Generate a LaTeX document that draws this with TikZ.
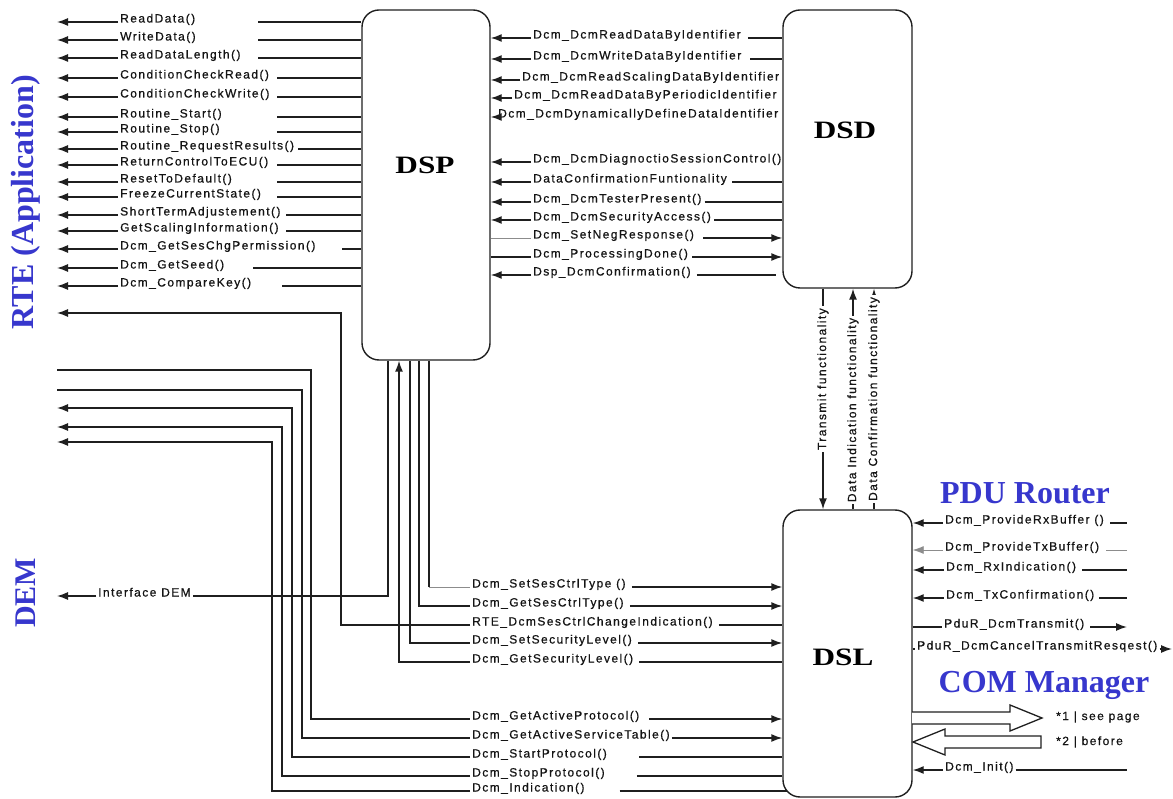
\documentclass[tikz,border=0pt]{standalone}
\usepackage{fontspec}
\usetikzlibrary{arrows.meta}
\newfontfamily\lblfam[LetterSpace=12,FakeBold=0.6]{Liberation Sans}
\newfontfamily\serfam{Liberation Serif}
\newfontfamily\boxfam[FakeStretch=1.25]{Liberation Serif}
\definecolor{hdblue}{RGB}{55,55,205}
\begin{document}
\begin{tikzpicture}[x=1pt,y=-1pt, >={Latex[length=11pt,width=8pt]},
 conn/.style={line width=1.4pt, draw=black!88},
 faint/.style={line width=0.8pt, draw=black!45},
 lbl/.style={font=\lblfam\fontsize{12}{14}\selectfont, text=black!92, inner xsep=2pt, inner ysep=1.5pt},
 box/.style={draw=black!88, line width=1.4pt, rounded corners=17pt, inner sep=0pt},
 boxlbl/.style={font=\boxfam\bfseries\fontsize{25}{28}\selectfont, text=black},
 head/.style={font=\serfam\bfseries\fontsize{32}{36}\selectfont, text=hdblue},
 vlbl/.style={lbl, rotate=90, fill=white, inner xsep=2pt},
 hollow/.style={draw=black!88, line width=1.3pt, fill=white, line join=miter}
]
\fill[white] (0,0) rectangle (1173,799);
\useasboundingbox (0,0) rectangle (1173,799);

% ---------- boxes ----------
\node[box, minimum width=128pt, minimum height=350pt] (DSP) at (426,185) {};
\node[box, minimum width=129pt, minimum height=278pt] (DSD) at (847.5,149) {};
\node[box, minimum width=129pt, minimum height=287pt] (DSL) at (847.5,653.5) {};
\node[boxlbl] (DSPt) at (425,165) {DSP};
\node[boxlbl] (DSDt) at (845,130) {DSD};
\node[boxlbl] (DSLt) at (843,657) {DSL};

% ---------- headings ----------
\node[head, rotate=90] (RTE) at (26,202) {RTE (Application)};
\node[head, rotate=90, font=\serfam\bfseries\fontsize{30}{34}\selectfont] (DEM) at (26,593) {DEM};
\node[head] (PDU) at (1025,493) {PDU Router};
\node[head] (COM) at (1044,685) {COM Manager};

% ---------- DSP -> RTE rows ----------
\foreach \i/\y/\xr/\t in {
 1/22/258/ReadData(),
 2/40/258/WriteData(),
 3/58/258/ReadDataLength(),
 4/78/277/ConditionCheckRead(),
 5/97/277/ConditionCheckWrite(),
 6/117/277/Routine\_Start(),
 7/132/277/Routine\_Stop(),
 8/149/298/Routine\_RequestResults(),
 9/165/277/ReturnControlToECU(),
 10/182/277/ResetToDefault(),
 11/197/277/FreezeCurrentState(),
 12/215/286/ShortTermAdjustement(),
 13/231/286/GetScalingInformation(),
 14/249/342/Dcm\_GetSesChgPermission(),
 15/268/253/Dcm\_GetSeed(),
 16/286/282/Dcm\_CompareKey()}{
 \coordinate (la\i) at (57,\y);
 \coordinate (ls\i) at (\xr,\y);
 \node[lbl, anchor=base west] (lt\i) at (118,\y+0.5) {\t};
 \draw[conn,->] (lt\i.west |- la\i) -- (la\i);
 \draw[conn] (ls\i) -- (DSP.west |- ls\i);
}

% ---------- DSP <-> DSD rows ----------
\foreach \i/\y/\xl/\t in {
 1/38/531/Dcm\_DcmReadDataByIdentifier,
 2/59/531/Dcm\_DcmWriteDataByIdentifier,
 3/80/520/Dcm\_DcmReadScalingDataByIdentifier,
 4/98/512/Dcm\_DcmReadDataByPeriodicIdentifier,
 5/117/496/Dcm\_DcmDynamicallyDefineDataIdentifier,
 6/162/531/Dcm\_DcmDiagnoctioSessionControl(),
 7/182/531/DataConfirmationFuntionality,
 8/202/531/Dcm\_DcmTesterPresent(),
 9/220/531/Dcm\_DcmSecurityAccess(),
 10/238/531/Dcm\_SetNegResponse(),
 11/257/531/Dcm\_ProcessingDone(),
 12/275/531/Dsp\_DcmConfirmation()}{
 \coordinate (r\i) at (0,\y);
 \node[lbl, anchor=base west] (m\i) at (\xl,\y+0.5) {\t};
}
\foreach \i in {1,2,3,4,5,6,7,8,9,12}{
 \draw[conn,->] (m\i.west |- r\i) -- (DSP.east |- r\i);
}
\draw[faint] (DSP.east |- r10) -- (m10.west |- r10);
\draw[conn] (DSP.east |- r11) -- (m11.west |- r11);
\draw[conn] (m1.east |- r1) ++(5,0) -- (DSD.west |- r1);
\draw[conn] (m2.east |- r2) ++(7,0) -- (DSD.west |- r2);
\draw[conn] (m7.east |- r7) ++(3,0) -- (DSD.west |- r7);
\draw[conn] (m8.east |- r8) ++(1,0) -- (DSD.west |- r8);
\draw[conn] (m9.east |- r9) ++(1,0) -- (DSD.west |- r9);
\draw[conn,->] (m10.east |- r10) ++(7,0) -- (DSD.west |- r10);
\draw[conn,->] (m11.east |- r11) ++(2,0) -- (DSD.west |- r11);
\coordinate (r12e) at (776,275);
\draw[conn] (m12.east |- r12) ++(4,0) -- (r12e);

% ---------- DSD <-> DSL ----------
\coordinate (t1) at (823,0);
\coordinate (t2) at (853,0);
\coordinate (t3) at (874,0);
\draw[conn,->] (DSD.south -| t1) -- node[vlbl, pos=0.41] (tx) {Transmit functionality} (DSL.north -| t1);
\draw[conn,->] (DSL.north -| t2) -- node[vlbl, pos=0.45] (di) {Data Indication functionality} (DSD.south -| t2);
\draw[conn,->] (DSL.north -| t3) -- node[vlbl, pos=0.50] (dc) {Data Confirmation functionality} (DSD.south -| t3);

% ---------- DSP bottom <-> DSL / DEM / RTE ----------
\coordinate (v0) at (388,596);
\coordinate (dem) at (57,596);
\node[lbl, anchor=base west] (idem) at (96,596.5) {Interface DEM};
\draw[conn] (DSP.south -| v0) -- (v0) -- (idem.east |- v0);
\draw[conn,->] (idem.west |- v0) -- (dem);

\coordinate (v1) at (429,587);
\node[lbl, anchor=base west] (n1) at (470,587.5) {Dcm\_SetSesCtrlType ()};
\draw[conn] (DSP.south -| v1) -- (v1);
\draw[faint] (v1) -- (n1.west |- v1);
\draw[conn,->] (n1.east |- v1) ++(4,0) -- (DSL.west |- v1);

\coordinate (v2) at (419,606);
\node[lbl, anchor=base west] (n2) at (470,606.5) {Dcm\_GetSesCtrlType()};
\draw[conn] (DSP.south -| v2) -- (v2) -- (n2.west |- v2);
\draw[conn,->] (n2.east |- v2) ++(4,0) -- (DSL.west |- v2);

\coordinate (v3) at (341,625);
\coordinate (v3t) at (341,313);
\coordinate (rte) at (57,313);
\node[lbl, anchor=base west] (n3) at (470,625.5) {RTE\_DcmSesCtrlChangeIndication()};
\draw[conn] (n3.east |- v3) ++(4,0) -- (DSL.west |- v3);
\draw[conn,->] (n3.west |- v3) -- (v3) -- (v3t) -- (rte);

\coordinate (v4) at (410,643);
\node[lbl, anchor=base west] (n4) at (470,643.5) {Dcm\_SetSecurityLevel()};
\draw[conn] (DSP.south -| v4) -- (v4) -- (n4.west |- v4);
\draw[conn,->] (n4.east |- v4) ++(4,0) -- (DSL.west |- v4);

\coordinate (v5) at (399,662);
\node[lbl, anchor=base west] (n5) at (470,662.5) {Dcm\_GetSecurityLevel()};
\draw[conn,->] (n5.west |- v5) -- (v5) -- (DSP.south -| v5);
\draw[conn] (n5.east |- v5) ++(4,0) -- (DSL.west |- v5);

% ---------- RTE <-> DSL lower group ----------
\coordinate (w1) at (311,719); \coordinate (w1t) at (311,370); \coordinate (e1) at (57,370);
\node[lbl, anchor=base west] (k1) at (470,719.5) {Dcm\_GetActiveProtocol()};
\draw[conn] (e1) -- (w1t) -- (w1) -- (k1.west |- w1);
\draw[conn,->] (k1.east |- w1) ++(8,0) -- (DSL.west |- w1);

\coordinate (w2) at (302,738); \coordinate (w2t) at (302,390); \coordinate (e2) at (57,390);
\node[lbl, anchor=base west] (k2) at (470,738.5) {Dcm\_GetActiveServiceTable()};
\draw[conn] (e2) -- (w2t) -- (w2) -- (k2.west |- w2);
\draw[conn,->] (k2.east |- w2) -- (DSL.west |- w2);

\coordinate (w3) at (292,757); \coordinate (w3t) at (292,408); \coordinate (e3) at (57,408);
\node[lbl, anchor=base west] (k3) at (470,757.5) {Dcm\_StartProtocol()};
\draw[conn,->] (k3.west |- w3) -- (w3) -- (w3t) -- (e3);
\draw[conn] (k3.east |- w3) ++(30,0) -- (DSL.west |- w3);

\coordinate (w4) at (282,776); \coordinate (w4t) at (282,427); \coordinate (e4) at (57,427);
\node[lbl, anchor=base west] (k4) at (470,776.5) {Dcm\_StopProtocol()};
\draw[conn,->] (k4.west |- w4) -- (w4) -- (w4t) -- (e4);
\draw[conn] (k4.east |- w4) ++(30,0) -- (DSL.west |- w4);

\coordinate (w5) at (272,791); \coordinate (w5t) at (272,442); \coordinate (e5) at (57,442);
\coordinate (w5e) at (787,791);
\node[lbl, anchor=base west] (k5) at (470,791.5) {Dcm\_Indication()};
\draw[conn,->] (k5.west |- w5) -- (w5) -- (w5t) -- (e5);
\draw[conn] (k5.east |- w5) ++(33,0) -- (w5e);

% ---------- PDU Router side ----------
\coordinate (p1) at (1127,523);
\node[lbl, anchor=base west] (o1) at (943,523.5) {Dcm\_ProvideRxBuffer ()};
\draw[conn,->] (o1.west |- p1) -- (DSL.east |- p1);
\draw[conn] (o1.east |- p1) ++(4,0) -- (p1);

\coordinate (p2) at (1127,550);
\node[lbl, anchor=base west] (o2) at (943,550.5) {Dcm\_ProvideTxBuffer()};
\draw[faint,->] (o2.west |- p2) -- (DSL.east |- p2);
\draw[faint] (o2.east |- p2) ++(5,0) -- (p2);

\coordinate (p3) at (1127,570);
\node[lbl, anchor=base west] (o3) at (944,570.5) {Dcm\_RxIndication()};
\draw[conn,->] (o3.west |- p3) -- (DSL.east |- p3);
\draw[conn] (o3.east |- p3) ++(4,0) -- (p3);

\coordinate (p4) at (1127,598);
\node[lbl, anchor=base west] (o4) at (944,598.5) {Dcm\_TxConfirmation()};
\draw[conn,->] (o4.west |- p4) -- (DSL.east |- p4);
\draw[conn] (o4.east |- p4) ++(3,0) -- (p4);

\coordinate (p5) at (1127,627);
\node[lbl, anchor=base west] (o5) at (942,627.5) {PduR\_DcmTransmit()};
\draw[conn] (DSL.east |- p5) -- (o5.west |- p5);
\draw[conn,->] (o5.east |- p5) ++(4,0) -- (p5);

\coordinate (p6) at (1172,649);
\node[lbl, anchor=base west] (o6) at (915,649.5) {PduR\_DcmCancelTransmitResqest()};
\draw[conn] (DSL.east |- p6) -- (o6.west |- p6);
\draw[conn,->] (o6.east |- p6) -- (p6);

% ---------- COM Manager side ----------
\draw[hollow] (912,712) -- (1010,712) -- (1010,705) -- (1042,718) -- (1010,731) -- (1010,724) -- (912,724);
\draw[hollow] (1041,736) -- (945,736) -- (945,729) -- (913,742) -- (945,755) -- (945,748) -- (1041,748) -- cycle;
\node[lbl, anchor=west] (c1) at (1054,717) {*1 | see page};
\node[lbl, anchor=west] (c2) at (1054,742) {*2 | before};

\coordinate (p7) at (1127,770);
\node[lbl, anchor=base west] (o7) at (943,770.5) {Dcm\_Init()};
\draw[conn,->] (o7.west |- p7) -- (DSL.east |- p7);
\draw[conn] (o7.east |- p7) -- (p7);
\end{tikzpicture}
\end{document}
